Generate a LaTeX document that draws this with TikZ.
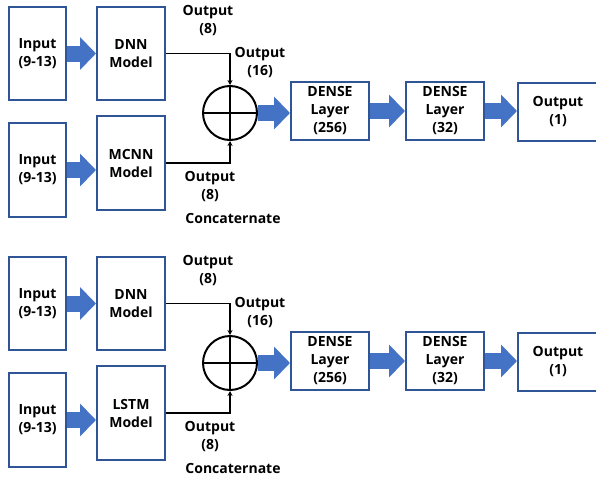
\documentclass[tikz,border=0pt]{standalone}
\usepackage{fontspec}
\setmainfont{Open Sans}
\usepackage{tikz}
\usetikzlibrary{arrows.meta,positioning,calc}

\definecolor{boxblue}{HTML}{2F5597}
\definecolor{arrowblue}{HTML}{4472C4}

\tikzset{
    blk/.style={draw=boxblue, line width=2pt, fill=white, align=center, inner sep=0pt,
        font=\bfseries\fontsize{14}{18}\selectfont},
    fat/.style={arrowblue, line width=16pt, -{Triangle[length=16pt,width=32pt]}},
    wire/.style={line width=1.5pt, -{Stealth[length=5pt,width=5pt]}},
    lbl/.style={align=center, inner sep=0pt, font=\bfseries\fontsize{14}{18}\selectfont}
}

\begin{document}
\begin{tikzpicture}[x=1pt, y=-1pt]
    \useasboundingbox (0,0) rectangle (596,479);

    \foreach \p/\model/\dy in {a/MCNN/0, b/LSTM/250} {
        % Inputs and models
        \node[blk, minimum width=57pt, minimum height=93pt] (in1\p) at (37.5, 53.5+\dy) {Input\\(9-13)};
        \node[blk, minimum width=68pt, minimum height=93pt] (dnn\p) at (131, 53.5+\dy) {DNN\\Model};
        \node[blk, minimum width=57pt, minimum height=94pt] (in2\p) at (37.5, 170+\dy) {Input\\(9-13)};
        \node[blk, minimum width=68pt, minimum height=94pt] (mdl\p) at (131, 163+\dy) {\model\\Model};

        % Concatenation
        \node[circle, draw, line width=2pt, minimum size=54pt, inner sep=0pt] (cat\p) at (230, 113+\dy) {};
        \draw[line width=2pt] (cat\p.west) -- (cat\p.east);
        \draw[line width=2pt] (cat\p.north) -- (cat\p.south);

        % Dense layers
        \node[blk, minimum width=78pt, minimum height=58pt] (dns1\p) at (330, 111+\dy) {DENSE\\Layer\\(256)};
        \node[blk, minimum width=78pt, minimum height=58pt] (dns2\p) at (445, 111+\dy) {DENSE\\Layer\\(32)};
        \node[blk, minimum width=80pt, minimum height=58pt] (out\p) at (558, 112+\dy) {Output\\(1)};

        % Block arrows
        \draw[fat] (in1\p.east) -- (dnn\p.west);
        \draw[fat] (in2\p.east) -- (in2\p.east -| mdl\p.west);
        \draw[fat] (cat\p.east) -- (cat\p.east -| dns1\p.west);
        \draw[fat] (dns1\p.east) -- (dns2\p.west);
        \draw[fat] (dns2\p.east) -- (dns2\p.east -| out\p.west);

        % Wires into the concatenation
        \draw[wire] (dnn\p.east) -| (cat\p.north);
        \draw[wire] (mdl\p.east) -| (cat\p.south);

        % Labels
        \node[lbl] (lo1\p) at (208, 21+\dy) {Output\\(8)};
        \node[lbl] (lo2\p) at (260, 63+\dy) {Output\\(16)};
        \node[lbl] (lo3\p) at (210, 187+\dy) {Output\\(8)};
        \node[lbl] (lcat\p) at (233, 218+\dy) {Concaternate};
    }
\end{tikzpicture}
\end{document}
